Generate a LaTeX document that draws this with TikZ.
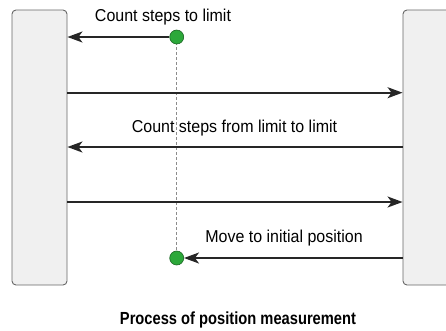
\documentclass[tikz,border=0pt]{standalone}
\usepackage{fontspec}
\setmainfont[FakeStretch=0.84]{Liberation Sans}
\newfontfamily\lblfont[FakeStretch=0.93]{Liberation Sans}
\usetikzlibrary{arrows.meta}
\definecolor{dotgreen}{RGB}{44,168,58}
\definecolor{barfill}{RGB}{240,240,240}
\tikzset{
  bar/.style={draw=black!60, fill=barfill, rounded corners=4pt, line width=0.9pt, minimum width=55pt, minimum height=275pt, inner sep=0pt},
  dot/.style={circle, draw=dotgreen!60!black, fill=dotgreen, minimum size=14pt, inner sep=0pt, line width=0.6pt},
  move/.style={line width=1.8pt, black!85, -{Stealth[length=15pt, width=11pt, inset=4pt]}},
  lbl/.style={font=\lblfont\fontsize{17.2}{19}\selectfont, inner sep=0pt}
}
\begin{document}
\begin{tikzpicture}[x=1pt, y=-1pt]
\useasboundingbox (0,0) rectangle (446,330);
\def\xd{176.7}
\def\ya{37}
\def\yb{258}
\node[bar] (left) at (39.5,147.5) {};
\node[bar] (right) at (430.5,147.5) {};

% measuring point
\coordinate (p1) at (\xd,\ya);
\coordinate (p2) at (\xd,\yb);
\draw[black!45, dashed, dash pattern=on 3pt off 2pt, line width=0.5pt] (p1) -- (p2);
\node[dot] (start) at (p1) {};
\node[dot] (home) at (p2) {};

% labels
\node[lbl] (l1) at (163,17) {Count steps to limit};
\node[lbl] (l2) at (234.5,128) {Count steps from limit to limit};
\node[lbl] (l3) at (284,238) {Move to initial position};
\node[font=\bfseries\fontsize{17.5}{19}\selectfont, inner sep=0pt] (title) at (238,320) {Process of position measurement};

% edges
\draw[move] (start) -- (start -| left.east); % dot to left
\draw[move] (left.east |- 0,92.7) -- (right.west |- 0,92.7); % left to right
\draw[move] (right.west |- 0,147) -- (left.east |- 0,147); % right to left
\draw[move] (left.east |- 0,202) -- (right.west |- 0,202); % left to right
\draw[move] (right.west |- home) -- (home); % right to dot
\end{tikzpicture}
\end{document}
